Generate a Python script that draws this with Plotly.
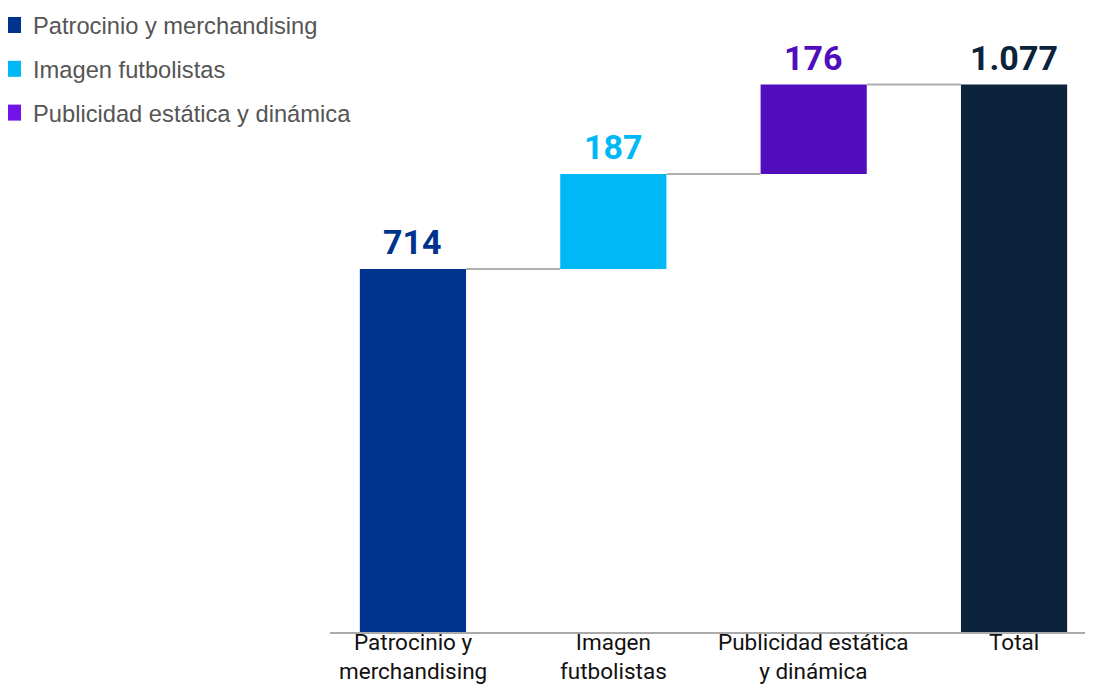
import plotly.graph_objects as go

categories = ["Patrocinio y<br>merchandising", "Imagen<br>futbolistas",
              "Publicidad estática<br>y dinámica", "Total"]
legend_names = ["Patrocinio y merchandising", "Imagen futbolistas",
                "Publicidad estática y dinámica"]
values = [714, 187, 176]
total = 1077
value_labels = ["714", "187", "176", "1.077"]

bar_colors = ["#00338D", "#00B8F5", "#510DBC", "#0C233C"]
legend_colors = ["#00338D", "#00B8F5", "#7213EA"]

# bases for the floating bars
bases = []
run = 0
for v in values:
    bases.append(run)
    run += v
bar_values = values + [total]
bar_bases = bases + [0]

fig = go.Figure()
for i, cat in enumerate(categories):
    fig.add_trace(go.Bar(
        x=[i], y=[bar_values[i]], base=[bar_bases[i]],
        width=0.53,
        marker=dict(color=bar_colors[i], line=dict(width=0)),
        showlegend=False, hoverinfo="skip",
    ))

# legend entries as square markers
for i, name in enumerate(legend_names):
    fig.add_trace(go.Scatter(
        x=[None], y=[None], mode="markers", name=name,
        legendgroup=name,
        marker=dict(symbol="square", size=16, color=legend_colors[i]),
    ))

# connector lines between bars
levels = [bases[i] + values[i] for i in range(len(values))]
shapes = []
for i, lvl in enumerate(levels):
    shapes.append(dict(type="line", xref="x", yref="y",
                       x0=i + 0.265, x1=i + 1 - 0.265, y0=lvl, y1=lvl,
                       line=dict(color="#B0B0B0", width=2)))

annotations = []
# value labels above bars
for i, lab in enumerate(value_labels):
    annotations.append(dict(
        x=i, y=bar_bases[i] + bar_values[i], xref="x", yref="y",
        text="<b>%s</b>" % lab, showarrow=False, yanchor="bottom", yshift=5,
        font=dict(family="Roboto", size=34, color=bar_colors[i]),
    ))
# category labels under the axis
for i, cat in enumerate(categories):
    annotations.append(dict(
        x=i, y=0, xref="x", yref="y", text=cat, showarrow=False,
        yanchor="top", yshift=4, borderpad=0,
        font=dict(family="Roboto", size=22.5, color="#111111"),
    ))

# page body adds 8px offset, so figure is 8px smaller and margins shifted
fig.update_layout(
    width=1085, height=681,
    margin=dict(l=322, r=0, t=14, b=57, autoexpand=False),
    plot_bgcolor="white", paper_bgcolor="white",
    barmode="overlay",
    shapes=shapes,
    annotations=annotations,
    legend=dict(x=-0.4417, xanchor="left", y=1.031, yanchor="top",
                font=dict(family="Liberation Sans, Arial", size=23.7, color="#555555"),
                tracegroupgap=10, itemwidth=30,
                bgcolor="rgba(0,0,0,0)"),
    xaxis=dict(
        range=[-0.414, 3.394], showgrid=False, zeroline=False,
        showline=True, linecolor="#AAAAAA", linewidth=2, ticks="",
        showticklabels=False,
    ),
    yaxis=dict(range=[0, 1200], visible=False, showgrid=False, zeroline=False),
)

fig.write_html("out.html")
